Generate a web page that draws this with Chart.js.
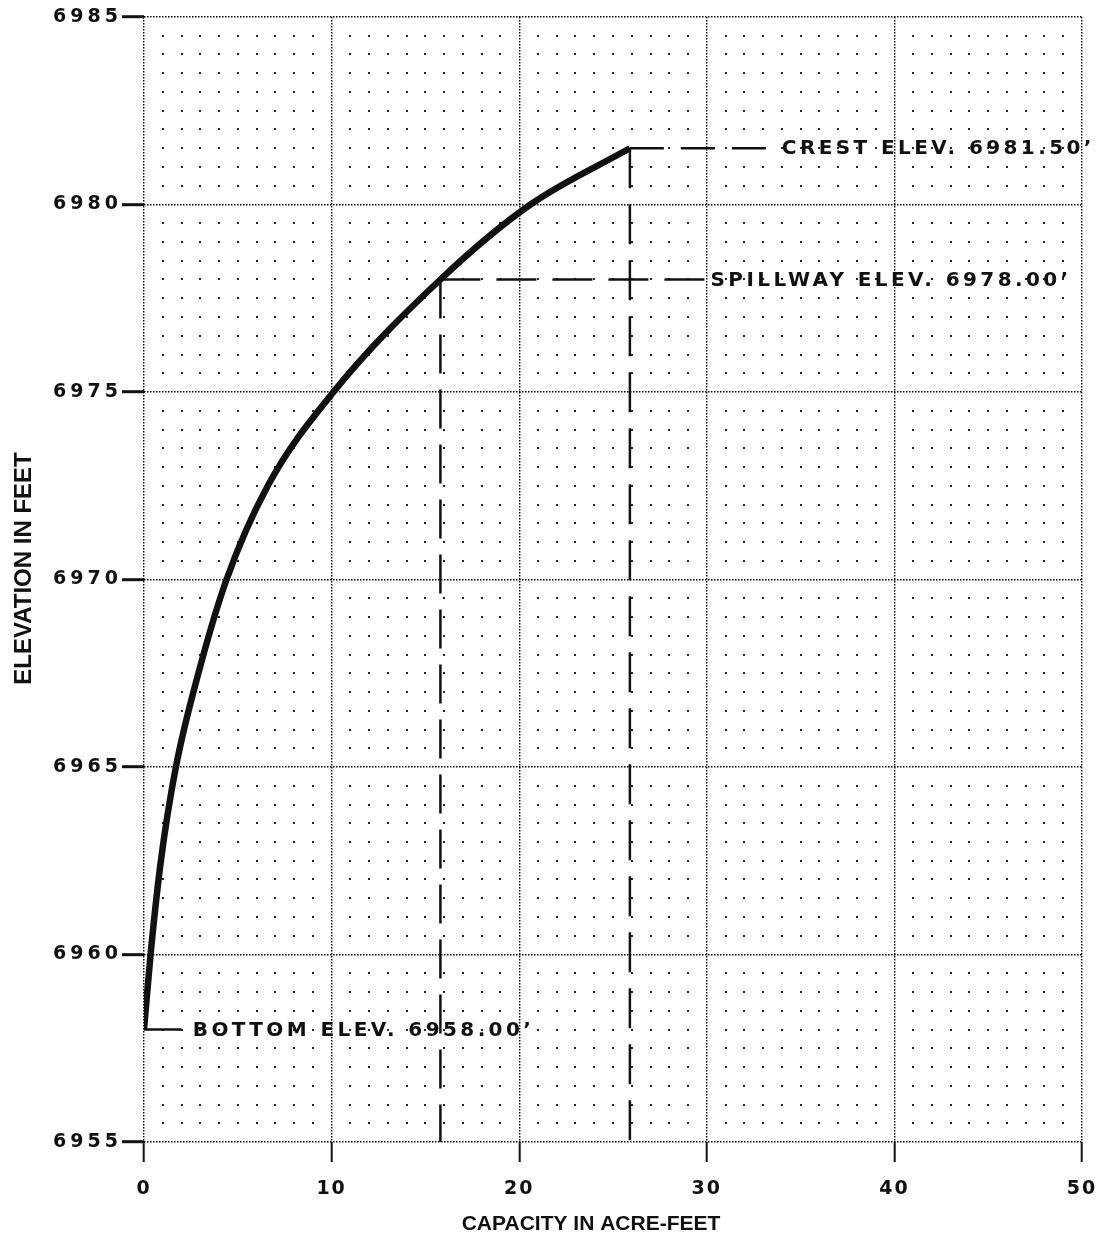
<!DOCTYPE html>
<html><head><meta charset="utf-8">
<script src="https://cdn.jsdelivr.net/npm/chart.js@4.4.1/dist/chart.umd.min.js"></script>
<style>html,body{margin:0;padding:0;background:#fff;}#wrap{width:1102px;height:1241px;position:relative;}canvas{display:block;}</style>
</head><body><div id="wrap"><canvas id="c" width="1102" height="1241" style="width:1102px;height:1241px"></canvas></div>
<script>
// ---- data ----
const capacity  = [0, 0.35, 0.9, 1.7, 2.9, 4.4, 6.6, 10.1, 15.8, 20.6, 25.9];
const elevation = [6958, 6960, 6962.5, 6965, 6967.5, 6970, 6972.5, 6975, 6978, 6980, 6981.5];
const xTickValues = [0, 10, 20, 30, 40, 50];
const yTickValues = [6955, 6960, 6965, 6970, 6975, 6980, 6985];
const crestCapacity = 25.9, crestElevation = 6981.5, crestLineEnd = 33.2, crestLabelAt = 34.0;
const spillCapacity = 15.8, spillElevation = 6978.0, spillLineEnd = 29.9, spillLabelAt = 30.2;
const bottomCapacity = 0, bottomElevation = 6958.0, bottomLeaderEnd = 2.0, bottomLabelAt = 2.6;
const labelTexts = ["CREST ELEV. 6981.50’", "SPILLWAY ELEV. 6978.00’", "BOTTOM ELEV. 6958.00’"];
const xTitle = "CAPACITY IN ACRE-FEET";
const yTitle = "ELEVATION IN FEET";

const FONT = "'DejaVu Sans', Arial, sans-serif";
const TITLE_FONT = "'Liberation Sans', Arial, Helvetica, sans-serif";
const INK = '#111111';

const curve = capacity.map((c, i) => ({x: c, y: elevation[i]}));
const dashed = (pts, dash) => ({data: pts, borderColor: INK, borderWidth: 2.5, borderDash: dash, pointRadius: 0, tension: 0, borderCapStyle: 'butt'});

const fineDots = {
  id: 'fineDots',
  beforeDatasetsDraw(chart) {
    const {ctx, scales: {x, y}} = chart;
    ctx.save();
    ctx.fillStyle = '#262626';
    for (let i = 1; i < 50; i++) {
      if (i % 10 === 0) continue;
      const px = Math.round(x.getPixelForValue(i));
      for (let j = 1; j < 60; j++) {
        if (j % 10 === 0) continue;
        const py = Math.round(y.getPixelForValue(6955 + j * 0.5));
        ctx.fillRect(px - 1, py - 1, 2, 2);
      }
    }
    ctx.restore();
  }
};

const labels = {
  id: 'labels',
  afterDatasetsDraw(chart) {
    const {ctx, scales: {x, y}} = chart;
    ctx.save();
    ctx.fillStyle = INK;
    ctx.font = `bold 20px ${FONT}`;
    ctx.letterSpacing = '3.4px';
    ctx.textAlign = 'left';
    ctx.textBaseline = 'middle';
    ctx.fillText(labelTexts[0], x.getPixelForValue(crestLabelAt), y.getPixelForValue(crestElevation) + 1);
    ctx.fillText(labelTexts[1], x.getPixelForValue(spillLabelAt), y.getPixelForValue(spillElevation) + 1);
    ctx.fillText(labelTexts[2], x.getPixelForValue(bottomLabelAt), y.getPixelForValue(bottomElevation) + 1);
    ctx.restore();
  }
};

const tickSpacing = {x: '2px', y: '4px'};
const titleShift = {x: [-22, 0], y: [0, -11]};
const styledAxes = {
  id: 'styledAxes',
  afterUpdate(chart) {
    for (const id of ['x', 'y']) {
      const s = chart.scales[id];
      if (s && !s._styled) {
        const origLabels = s.drawLabels.bind(s);
        s.drawLabels = function (ca) {
          this.ctx.save();
          this.ctx.letterSpacing = tickSpacing[id];
          origLabels(ca);
          this.ctx.restore();
        };
        const origTitle = s.drawTitle.bind(s);
        s.drawTitle = function () {
          this.ctx.save();
          this.ctx.translate(titleShift[id][0], titleShift[id][1]);
          origTitle();
          this.ctx.restore();
        };
        s._styled = true;
      }
    }
  }
};

const gridCommon = {
  color: '#000000',
  lineWidth: 1.4,
  drawTicks: true,
  tickColor: INK,
  tickBorderDash: [],
};

new Chart(document.getElementById('c'), {
  type: 'line',
  data: {
    datasets: [
      {data: curve, borderColor: INK, borderWidth: 6.5, pointRadius: 0, cubicInterpolationMode: 'monotone', borderCapStyle: 'butt', borderJoinStyle: 'round'},
      dashed([{x: crestCapacity, y: crestElevation}, {x: crestLineEnd, y: crestElevation}], [34, 17]),
      dashed([{x: crestCapacity, y: crestElevation}, {x: crestCapacity, y: 6955}], [40, 16]),
      dashed([{x: spillCapacity, y: spillElevation}, {x: spillLineEnd, y: spillElevation}], [40, 16]),
      dashed([{x: spillCapacity, y: spillElevation}, {x: spillCapacity, y: 6955}], [39, 16]),
      {data: [{x: bottomCapacity, y: bottomElevation}, {x: bottomLeaderEnd, y: bottomElevation}], borderColor: INK, borderWidth: 2.5, pointRadius: 0, tension: 0},
    ]
  },
  options: {
    responsive: false,
    animation: false,
    devicePixelRatio: 1,
    layout: {padding: {top: 17, right: 20, left: 0, bottom: 0}},
    plugins: {legend: {display: false}, tooltip: {enabled: false}},
    scales: {
      x: {
        type: 'linear', min: 0, max: 50,
        afterBuildTicks: (s) => { s.ticks = xTickValues.map(v => ({value: v})); },
        afterFit: (s) => { s.height = 99; s.paddingLeft = 0; s.paddingRight = 0; },
        grid: {...gridCommon, tickLength: 20, tickWidth: 2},
        border: {display: false, dash: [1.5, 1.5]},
        ticks: {color: INK, font: {family: FONT, size: 19, weight: 'bold'}, padding: 16, maxRotation: 0},
        title: {display: true, text: xTitle, color: INK, font: {family: TITLE_FONT, size: 21, weight: 'bold'}, padding: {top: 0, bottom: 4}}
      },
      y: {
        type: 'linear', min: 6955, max: 6985,
        afterBuildTicks: (s) => { s.ticks = yTickValues.map(v => ({value: v})); },
        afterFit: (s) => { s.width = 144; s.paddingTop = 0; s.paddingBottom = 0; },
        grid: {...gridCommon, tickLength: 22, tickWidth: 3},
        border: {display: false, dash: [1.5, 1.5]},
        ticks: {color: INK, font: {family: FONT, size: 19, weight: 'bold'}, padding: 0, callback: (v) => String(v)},
        title: {display: true, text: yTitle, color: INK, font: {family: TITLE_FONT, size: 24, weight: 'bold'}, padding: {top: 10, bottom: 0}}
      }
    }
  },
  plugins: [fineDots, labels, styledAxes]
});
</script>
</body></html>
